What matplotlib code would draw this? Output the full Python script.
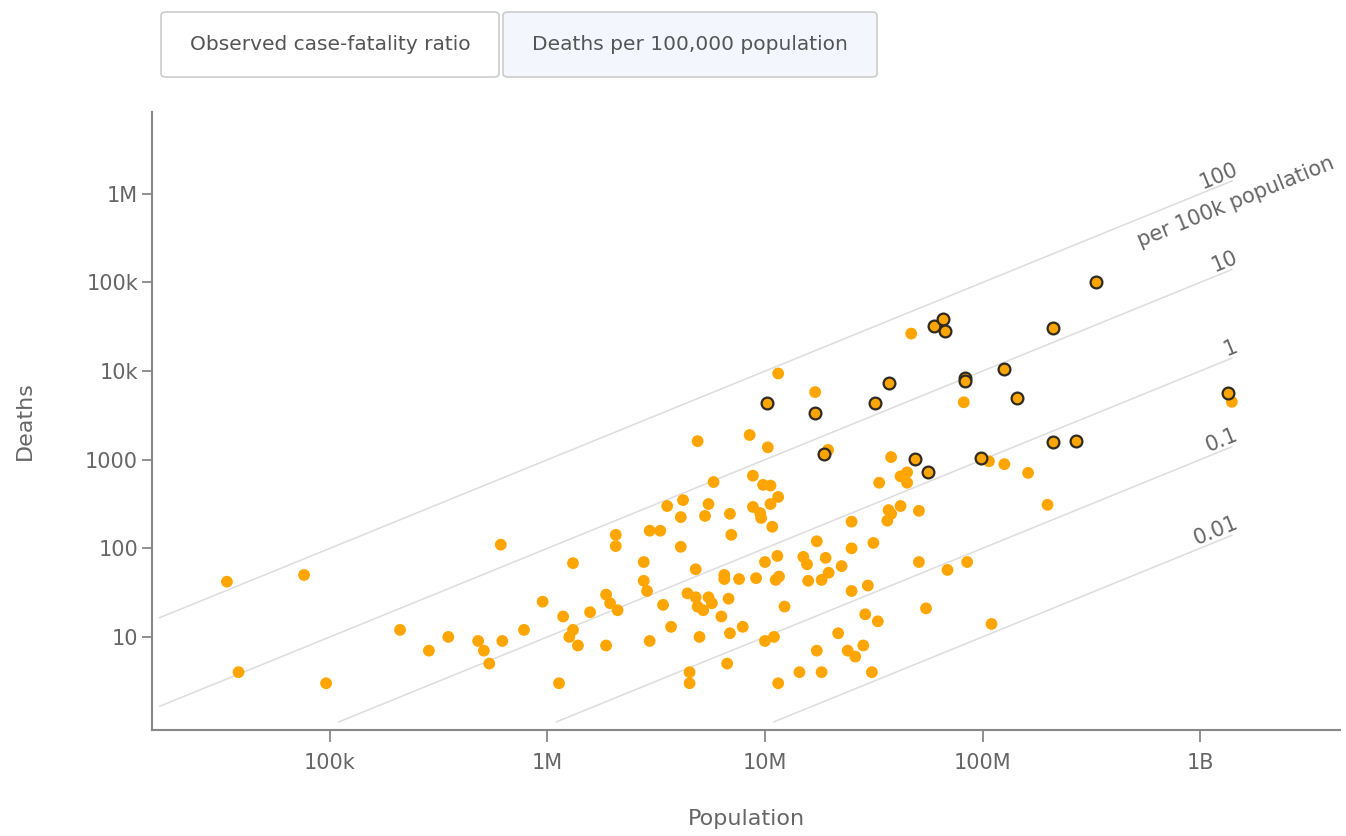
import numpy as np
import matplotlib
matplotlib.use("Agg")
import matplotlib.pyplot as plt
from matplotlib.patches import FancyBboxPatch

# Countries without highlight (population, deaths)
population = [
    33.6e3, 76e3, 38e3, 96e3, 210e3, 285e3, 350e3, 480e3, 510e3, 540e3,
    610e3, 620e3, 780e3, 950e3, 1.13e6, 1.18e6, 1.26e6, 1.31e6, 1.31e6, 1.38e6,
    1.57e6, 1.86e6, 1.86e6, 1.94e6, 2.06e6, 2.06e6, 2.1e6, 2.77e6, 2.77e6, 2.87e6,
    2.95e6, 2.95e6, 3.3e6, 3.4e6, 3.55e6, 3.7e6, 4.1e6, 4.1e6, 4.2e6, 4.4e6,
    4.5e6, 4.5e6, 4.8e6, 4.8e6, 4.9e6, 4.9e6, 5.0e6, 5.2e6, 5.3e6, 5.5e6,
    5.5e6, 5.7e6, 5.8e6, 6.3e6, 6.5e6, 6.5e6, 6.7e6, 6.8e6, 6.9e6, 6.9e6,
    7.0e6, 7.6e6, 7.9e6, 8.5e6, 8.8e6, 8.8e6, 9.1e6, 9.5e6, 9.6e6, 9.8e6,
    10e6, 10e6, 10.3e6, 10.6e6, 10.6e6, 10.8e6, 11e6, 11.2e6, 11.4e6, 11.5e6,
    11.5e6, 11.5e6, 11.6e6, 12.3e6, 14.4e6, 15e6, 15.6e6, 15.8e6, 17e6, 17.3e6,
    17.3e6, 18.2e6, 18.2e6, 19e6, 19.5e6, 19.6e6, 21.7e6, 22.5e6, 24e6, 25e6,
    25e6, 25e6, 26e6, 28.3e6, 28.9e6, 29.7e6, 31e6, 31.5e6, 33e6, 33.5e6,
    36.5e6, 37e6, 38e6, 38e6, 42e6, 42e6, 45e6, 45e6, 47e6, 51e6,
    51e6, 55e6, 69e6, 82e6, 85e6, 107e6, 110e6, 126e6, 162e6, 199e6,
    1.4e9,
]
deaths = [
    42, 50, 4, 3, 12, 7, 10, 9, 7, 5,
    110, 9, 12, 25, 3, 17, 10, 12, 68, 8,
    19, 30, 8, 24, 142, 106, 20, 70, 43, 33,
    158, 9, 158, 23, 300, 13, 225, 104, 350, 31,
    4, 3, 58, 28, 1620, 22, 10, 20, 232, 316,
    28, 24, 560, 17, 50, 45, 5, 27, 245, 11,
    142, 45, 13, 1900, 660, 293, 46, 250, 220, 520,
    70, 9, 1380, 510, 316, 175, 10, 44, 82, 9400,
    380, 3, 48, 22, 4, 80, 66, 43, 5800, 120,
    7, 44, 4, 78, 1290, 53, 11, 63, 7, 200,
    100, 33, 6, 8, 18, 38, 4, 115, 15, 550,
    205, 270, 245, 1070, 300, 650, 720, 550, 26500, 265,
    70, 21, 57, 4450, 70, 960, 14, 890, 710, 310,
    4500,
]

# Highlighted countries (dark outline)
hl_population = [
    10.2e6, 17e6, 18.6e6, 32e6, 37e6, 49e6, 56e6, 60e6, 66e6, 67e6,
    83e6, 83e6, 98e6, 126e6, 144e6, 210e6, 210e6, 270e6, 331e6, 1.35e9,
]
hl_deaths = [
    4400, 3400, 1160, 4400, 7400, 1030, 730, 32500, 39000, 28500,
    8300, 7800, 1050, 10500, 5000, 31000, 1590, 1620, 102000, 5600,
]

# Reference lines: deaths per 100k population
rates = [100, 10, 1, 0.1, 0.01]
rate_labels = ["100", "10", "1", "0.1", "0.01"]

x_ticks = [1e5, 1e6, 1e7, 1e8, 1e9]
x_tick_labels = ["100k", "1M", "10M", "100M", "1B"]
y_ticks = [10, 100, 1000, 1e4, 1e5, 1e6]
y_tick_labels = ["10", "100", "1000", "10k", "100k", "1M"]

buttons = ["Observed case-fatality ratio", "Deaths per 100,000 population"]

W, H = 1346, 836
fig = plt.figure(figsize=(W / 100, H / 100), dpi=100)
ax = fig.add_axes([152 / W, 1 - 730 / H, (1340 - 152) / W, (730 - 112) / H])

ax.set_xscale("log")
ax.set_yscale("log")
ax.set_xlim(15.2e3, 4.4e9)
ax.set_ylim(0.89, 8.4e6)

# reference lines
pop_min, pop_max = 16.5e3, 1.4e9
for r in rates:
    start = max(pop_min, 1.1e5 / r)
    xs = np.logspace(np.log10(start), np.log10(pop_max), 50)
    ax.plot(xs, xs * r / 1e5, color="#dddddd", lw=1.1, zorder=1)

# angle of lines on screen
p0 = ax.transData.transform((1e6, 10))
p1 = ax.transData.transform((1e8, 1000))
angle = np.degrees(np.arctan2(p1[1] - p0[1], p1[0] - p0[0]))

for r, lab in zip(rates, rate_labels):
    ax.text(pop_max * 1.1, pop_max * r / 1e5 * 1.1, lab, rotation=angle,
            rotation_mode="anchor", ha="right", va="bottom",
            fontsize=15, color="#666666", zorder=2)
ax.text(5.0e8, 5.0e8 * 100 / 1e5 / 1.35, "per 100k population", rotation=angle,
        rotation_mode="anchor", ha="left", va="top",
        fontsize=15, color="#666666", zorder=2)

ax.scatter(population, deaths, s=72, color="#ffa500", edgecolors="none", zorder=3)
ax.scatter(hl_population, hl_deaths, s=72, color="#ffa500",
           edgecolors="#2e2a22", linewidths=1.6, zorder=4)

for side in ["top", "right"]:
    ax.spines[side].set_visible(False)
for side in ["left", "bottom"]:
    ax.spines[side].set_color("#888888")
    ax.spines[side].set_linewidth(1.5)

ax.set_xticks(x_ticks)
ax.set_xticklabels(x_tick_labels)
ax.set_yticks(y_ticks)
ax.set_yticklabels(y_tick_labels)
ax.minorticks_off()
ax.tick_params(axis="x", length=8.5, width=1.3, color="#888888",
               labelcolor="#666666", labelsize=15, pad=8)
ax.tick_params(axis="y", length=7, width=1.3, color="#888888",
               labelcolor="#666666", labelsize=15, pad=3)

ax.set_xlabel("Population", fontsize=16, color="#666666", labelpad=26)
ax.set_ylabel("Deaths", fontsize=16, color="#666666", labelpad=36)

# toggle buttons at the top
boxes = [(161, 499, "white"), (503, 877, "#f3f7fd")]
for (x0, x1, fc), label in zip(boxes, buttons):
    patch = FancyBboxPatch((x0 / W, 1 - 77 / H), (x1 - x0) / W, 65 / H,
                           boxstyle="round,pad=0,rounding_size=0.004",
                           transform=fig.transFigure, facecolor=fc,
                           edgecolor="#cccccc", linewidth=1.2)
    fig.add_artist(patch)
    fig.text((x0 + x1) / 2 / W, 1 - 44 / H, label, ha="center", va="center",
             fontsize=14.5, color="#555555")

fig.savefig("out.png", dpi=100)
